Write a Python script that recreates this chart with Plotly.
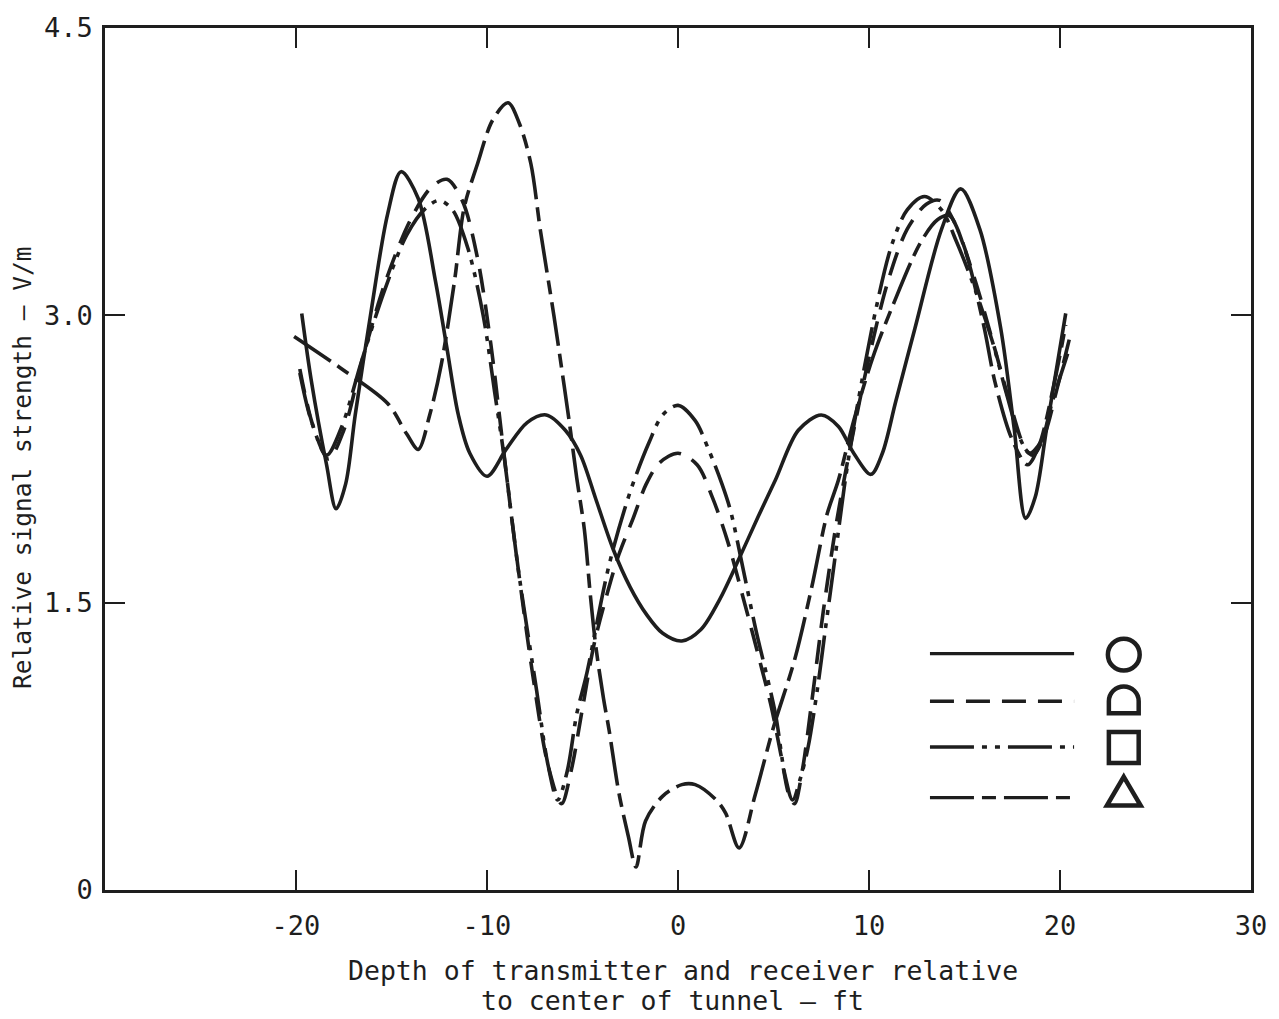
import plotly.graph_objects as go

# ---- data ----
circle_x = [-19.7, -19.2, -18.4, -17.9, -17.4, -16.9, -16.1, -15.2, -14.5, -13.6, -12.7, -12.1, -11.5,
            -10.9, -10.0, -9.0, -7.9, -6.9, -5.9, -5.1, -4.3, -3.4, -2.5, -1.66, -0.8, 0.2, 1.2, 2.2,
            3.2, 4.2, 5.1, 6.3, 7.5, 8.4, 9.2, 10.1, 10.7, 11.4, 12.4, 13.8, 14.8, 15.8, 16.9, 17.6,
            18.2, 18.7, 19.3, 20.3]
circle_y = [3.01, 2.66, 2.22, 1.99, 2.12, 2.48, 3.00, 3.53, 3.75, 3.61, 3.18, 2.83, 2.48,
            2.28, 2.16, 2.30, 2.44, 2.48, 2.40, 2.27, 2.04, 1.78, 1.58, 1.44, 1.34, 1.30, 1.36, 1.52,
            1.73, 1.95, 2.14, 2.40, 2.48, 2.42, 2.28, 2.17, 2.28, 2.55, 2.93, 3.45, 3.66, 3.45, 2.93, 2.41,
            1.94, 2.05, 2.41, 3.01]

dshape_x = [-19.8, -19.1, -18.3, -17.5, -16.5, -15.3, -14.0, -12.9, -12.1, -11.3, -10.5, -9.8, -9.2,
            -8.5, -7.6, -6.8, -6.1, -5.6, -5.0, -4.4, -3.7, -3.1, -2.35, -1.66, -0.97, 0.0, 1.0, 1.8,
            2.6, 3.4, 4.4, 4.9, 5.4, 5.8, 6.1, 6.5, 7.0, 7.6, 8.3, 9.0, 10.0, 11.0, 12.0, 13.0, 13.7,
            14.5, 15.5, 16.6, 17.5, 18.2, 18.6, 19.2, 19.8, 20.5]
dshape_y = [2.72, 2.42, 2.25, 2.40, 2.78, 3.18, 3.50, 3.67, 3.71, 3.60, 3.30, 2.85, 2.35,
            1.78, 1.12, 0.65, 0.45, 0.62, 0.95, 1.28, 1.55, 1.75, 1.94, 2.12, 2.23, 2.28, 2.22, 2.05,
            1.82, 1.53, 1.15, 0.95, 0.70, 0.50, 0.45, 0.62, 0.98, 1.45, 1.92, 2.30, 2.78, 3.18, 3.45, 3.58, 3.60,
            3.48, 3.20, 2.82, 2.50, 2.30, 2.27, 2.38, 2.60, 2.88]

square_x = [-19.8, -19.2, -18.4, -17.6, -16.6, -15.4, -14.2, -13.2, -12.5, -11.8, -11.0, -10.2, -9.6,
            -9.1, -8.4, -7.4, -6.8, -6.3, -5.8, -5.3, -4.8, -3.6, -2.5, -1.5, -0.8, 0.0, 0.9, 1.6,
            2.3, 2.75, 3.4, 4.05, 5.1, 5.6, 6.0, 6.4, 6.8, 7.3, 7.7, 8.2, 8.7, 9.2, 10.4, 11.2, 12.0,
            12.9, 13.8, 14.6, 15.5, 16.5, 17.2, 17.9, 18.4, 19.0, 19.6, 20.4]
square_y = [2.70, 2.45, 2.27, 2.42, 2.75, 3.12, 3.42, 3.56, 3.60, 3.55, 3.35, 3.00, 2.60,
            2.26, 1.70, 1.04, 0.65, 0.47, 0.62, 0.92, 1.12, 1.70, 2.08, 2.34, 2.48, 2.53, 2.45, 2.30,
            2.12, 1.98, 1.68, 1.37, 0.92, 0.60, 0.47, 0.58, 0.74, 1.05, 1.35, 1.72, 2.10, 2.42, 3.05, 3.37, 3.55,
            3.62, 3.55, 3.38, 3.15, 2.85, 2.59, 2.36, 2.28, 2.34, 2.55, 2.80]

triangle_x = [-20.1, -17.6, -15.2, -14.2, -13.6, -13.0, -12.4, -11.7, -11.2, -10.5, -9.7, -8.9, -8.3,
              -7.7, -7.2, -6.5, -6.0, -5.7, -5.3, -4.9, -4.6, -4.3, -3.9, -3.6, -3.1, -2.6, -2.2, -1.7,
              -0.8, 0.2, 0.9, 2.0, 2.5, 3.2, 4.05, 5.0, 6.1, 7.0, 7.8, 8.4, 9.2, 10.2, 11.2, 12.7, 13.6,
              14.2, 15.0, 16.0, 16.6, 17.5, 18.3, 18.9, 19.6, 20.3]
triangle_y = [2.89, 2.72, 2.54, 2.38, 2.30, 2.48, 2.74, 3.18, 3.56, 3.79, 4.02, 4.11, 4.00,
              3.79, 3.44, 3.00, 2.66, 2.45, 2.15, 1.88, 1.55, 1.27, 1.00, 0.83, 0.51, 0.28, 0.12, 0.36,
              0.49, 0.55, 0.55, 0.47, 0.40, 0.22, 0.50, 0.85, 1.20, 1.58, 1.96, 2.14, 2.45, 2.78, 3.04, 3.38, 3.50,
              3.52, 3.35, 2.95, 2.65, 2.35, 2.22, 2.32, 2.60, 2.95]

x_tickvals = [-20, -10, 0, 10, 20, 30]
x_ticktext = ["-20", "-10", "0", "10", "20", "30"]
y_tickvals = [0, 1.5, 3.0, 4.5]
y_ticktext = ["0", "1.5", "3.0", "4.5"]

series = [
    ("○", circle_x, circle_y, "solid"),
    ("D", dshape_x, dshape_y, "24px,12px"),
    ("□", square_x, square_y, "44px,8px,5px,8px,5px,8px"),
    ("△", triangle_x, triangle_y, "44px,8px,14px,8px"),
]

FONT = "DejaVu Sans Mono"
INK = "#1e1e1e"

fig = go.Figure()
for name, xs, ys, dash in series:
    fig.add_trace(go.Scatter(
        x=xs, y=ys, mode="lines", name=name, showlegend=False,
        line=dict(color=INK, width=3.6, dash=dash, shape="spline", smoothing=0.9),
    ))

# ---- hand-drawn style legend (decoration) ----
W, H = 1279, 1019
L, R, T, B = 105, 21, 22, 129
pw, ph = W - L - R, H - T - B
def dx(px):
    return -30 + (px - L) / pw * 60
def dy(py):
    return (H - B - py) / ph * 4.5

shapes = []
leg_rows = [652, 700, 746, 797]
for (name, xs, ys, dash), py in zip(series, leg_rows):
    shapes.append(dict(type="line", xref="x", yref="y", x0=dx(935), x1=dx(1080), y0=dy(py), y1=dy(py),
                       line=dict(color=INK, width=3.4, dash=dash)))
lw = dict(color=INK, width=4.5)
# circle
shapes.append(dict(type="circle", xref="x", yref="y", x0=dx(1114), x1=dx(1146), y0=dy(637), y1=dy(669), line=lw))
# D shape (flat bottom, round top)
cx, r = 1130, 15
top, bot = 685, 712
k = 0.5523 * r
mid = top + r
def P(px, py):
    return f"{dx(px):.4f},{dy(py):.4f}"
dpath = (f"M {P(cx - r, bot)} L {P(cx - r, mid)} "
         f"C {P(cx - r, mid - k)} {P(cx - k, top)} {P(cx, top)} "
         f"C {P(cx + k, top)} {P(cx + r, mid - k)} {P(cx + r, mid)} "
         f"L {P(cx + r, bot)} Z")
shapes.append(dict(type="path", xref="x", yref="y", path=dpath, line=lw))
# square
shapes.append(dict(type="rect", xref="x", yref="y", x0=dx(1115), x1=dx(1145), y0=dy(731), y1=dy(762), line=lw))
# triangle
tpath = f"M {P(1130, 776)} L {P(1147, 805)} L {P(1113, 805)} Z"
shapes.append(dict(type="path", xref="x", yref="y", path=tpath, line=lw))

def py_paper(py):
    return (H - B - py) / ph

fig.update_layout(
    width=W, height=H,
    margin=dict(l=L, r=R, t=T, b=B),
    paper_bgcolor="white", plot_bgcolor="white",
    font=dict(family=FONT, color=INK, size=25),
    shapes=shapes,
    annotations=[
        dict(text="Relative signal strength — V/m", xref="paper", yref="paper",
             x=(22 - L) / pw, y=0.49, textangle=-90, showarrow=False,
             font=dict(family=FONT, size=24.5, color=INK), xanchor="center", yanchor="middle"),
        dict(text="Depth of transmitter and receiver relative",
             xref="paper", yref="paper", x=(687 - L) / pw, y=py_paper(971), showarrow=False,
             xanchor="center", yanchor="middle",
             font=dict(family=FONT, size=26.5, color=INK)),
        dict(text="to center of tunnel — ft",
             xref="paper", yref="paper", x=(676 - L) / pw, y=py_paper(1001), showarrow=False,
             xanchor="center", yanchor="middle",
             font=dict(family=FONT, size=26.5, color=INK)),
    ],
)
fig.update_xaxes(
    range=[-30, 30], tickvals=x_tickvals, ticktext=x_ticktext,
    showgrid=False, zeroline=False, showline=True, linecolor=INK, linewidth=2.5,
    mirror="ticks", ticks="inside", ticklen=20, tickwidth=2, tickcolor=INK,
    tickfont=dict(family=FONT, size=27, color=INK), ticklabelstandoff=10,
)
fig.update_yaxes(
    range=[0, 4.5], tickvals=y_tickvals, ticktext=y_ticktext,
    showgrid=False, zeroline=False, showline=True, linecolor=INK, linewidth=2.5,
    mirror="ticks", ticks="inside", ticklen=20, tickwidth=2, tickcolor=INK,
    tickfont=dict(family=FONT, size=27, color=INK), ticklabelstandoff=4,
)

fig.write_html("out.html", config={"displayModeBar": False})

# remove the browser's default page margin so the figure sits at the window origin
with open("out.html", "r", encoding="utf-8") as f:
    html = f.read()
html = html.replace("<head>", "<head><style>html,body{margin:0;padding:0;overflow:hidden;}</style>", 1)
with open("out.html", "w", encoding="utf-8") as f:
    f.write(html)
